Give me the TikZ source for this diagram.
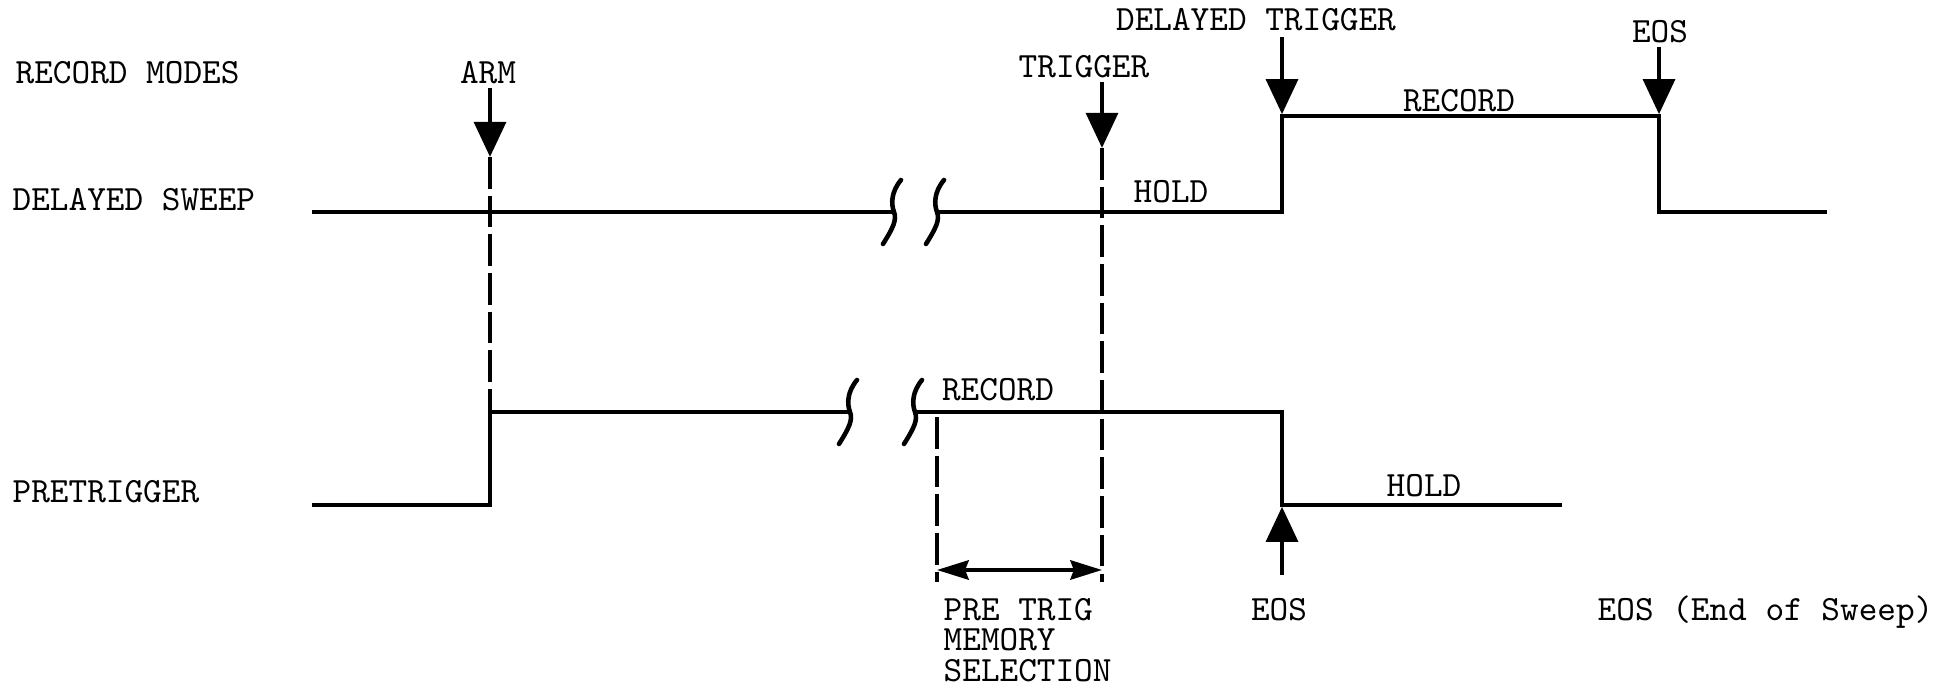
\documentclass[tikz,border=0pt]{standalone}
\usetikzlibrary{arrows.meta}
\tikzset{
  lbl/.style={font=\ttfamily\fontsize{10.1}{12}\selectfont, inner sep=0pt},
  wave/.style={line width=1.1pt},
  guide/.style={line width=1.2pt, dash pattern=on 9pt off 2pt},
  marker/.style={line width=1.3pt, -{Triangle[width=9pt,length=10pt]}},
  span/.style={line width=1.1pt, {Stealth[length=9pt,width=5.5pt,inset=1pt]}-{Stealth[length=9pt,width=5.5pt,inset=1pt]}},
  brk/.style={line width=1.3pt, line cap=round},
}
% break mark in a time line, centred at (#1,#2)
\newcommand{\brkmark}[2]{%
  \draw[brk] (#1-10,#2+32) .. controls (#1,#2+16) and (#1+4,#2+8) .. (#1+1,#2)
    .. controls (#1-2,#2-8) and (#1-2,#2-20) .. (#1+8,#2-32);}

\begin{document}
\begin{tikzpicture}[x=0.01cm,y=-0.01cm]
      \useasboundingbox (0,0) rectangle (1960,686);

      % row titles
      \node[lbl,anchor=west] (modes) at (15,73) {RECORD MODES};
      \node[lbl,anchor=west] (dsweep) at (12,200) {DELAYED SWEEP};
      \node[lbl,anchor=west] (pretrig) at (12,492) {PRETRIGGER};

      % delayed sweep
      \coordinate (ds0) at (312,212);
      \coordinate (dsA) at (893,212);
      \coordinate (dsB) at (937,212);
      \coordinate (dtlo) at (1282,212);
      \coordinate (dthi) at (1282,116);
      \coordinate (eoshi) at (1659,116);
      \coordinate (eoslo) at (1659,212);
      \coordinate (ds1) at (1827,212);
      \draw[wave] (ds0) -- (dsA);
      \draw[wave] (dsB) -- (dtlo) -- (dthi) -- (eoshi) -- (eoslo) -- (ds1);
      \brkmark{893}{212}
      \brkmark{936}{212}

      % pretrigger
      \coordinate (pt0) at (312,505);
      \coordinate (armlo) at (490,505);
      \coordinate (armhi) at (490,412);
      \coordinate (ptA) at (850,412);
      \coordinate (ptB) at (915,412);
      \coordinate (pteoshi) at (1282,412);
      \coordinate (pteoslo) at (1282,505);
      \coordinate (pt1) at (1562,505);
      \draw[wave] (pt0) -- (armlo) -- (armhi) -- (ptA);
      \draw[wave] (ptB) -- (pteoshi) -- (pteoslo) -- (pt1);
      \brkmark{849}{412}
      \brkmark{914}{412}

      \node[lbl] (rec1) at (1459,101) {RECORD};
      \node[lbl] (hold1) at (1171,192) {HOLD};
      \node[lbl] (rec2) at (998,390) {RECORD};
      \node[lbl] (hold2) at (1424,486) {HOLD};

      % events
      \node[lbl] (arm) at (488,73) {ARM};
      \coordinate (armtop) at (490,88);
      \coordinate (armtip) at (490,157);
      \draw[marker] (armtop) -- (armtip);
      \draw[guide] (armtip) -- (armhi);

      \node[lbl] (trig) at (1084,67) {TRIGGER};
      \coordinate (trigtop) at (1102,82);
      \coordinate (trigtip) at (1102,148);
      \coordinate (trigend) at (1102,582);
      \draw[marker] (trigtop) -- (trigtip);
      \draw[guide] (trigtip) -- (trigend);

      \node[lbl] (dtrig) at (1256,20) {DELAYED TRIGGER};
      \coordinate (dttop) at (1282,37);
      \draw[marker] (dttop) -- ([yshift=0.5pt]dthi);

      \node[lbl] (eos1) at (1660,32) {EOS};
      \coordinate (eostop) at (1659,47);
      \draw[marker] (eostop) -- ([yshift=0.5pt]eoshi);

      \coordinate (eosbot) at (1282,575);
      \draw[marker] (eosbot) -- ([yshift=-0.5pt]pteoslo);
      \node[lbl] (eos2) at (1279,610) {EOS};

      % pre trig memory span
      \coordinate (memtop) at (937,417);
      \coordinate (memend) at (937,582);
      \draw[guide] (memtop) -- (memend);
      \draw[span] (937,570) -- (1102,570);
      \node[lbl,anchor=west] (pre) at (943,610) {PRE TRIG};
      \node[lbl,anchor=west] (mem) at (943,640) {MEMORY};
      \node[lbl,anchor=west] (sel) at (943,671) {SELECTION};

      \node[lbl,anchor=west] (key) at (1597,612) {EOS (End of Sweep)};
\end{tikzpicture}
\end{document}
